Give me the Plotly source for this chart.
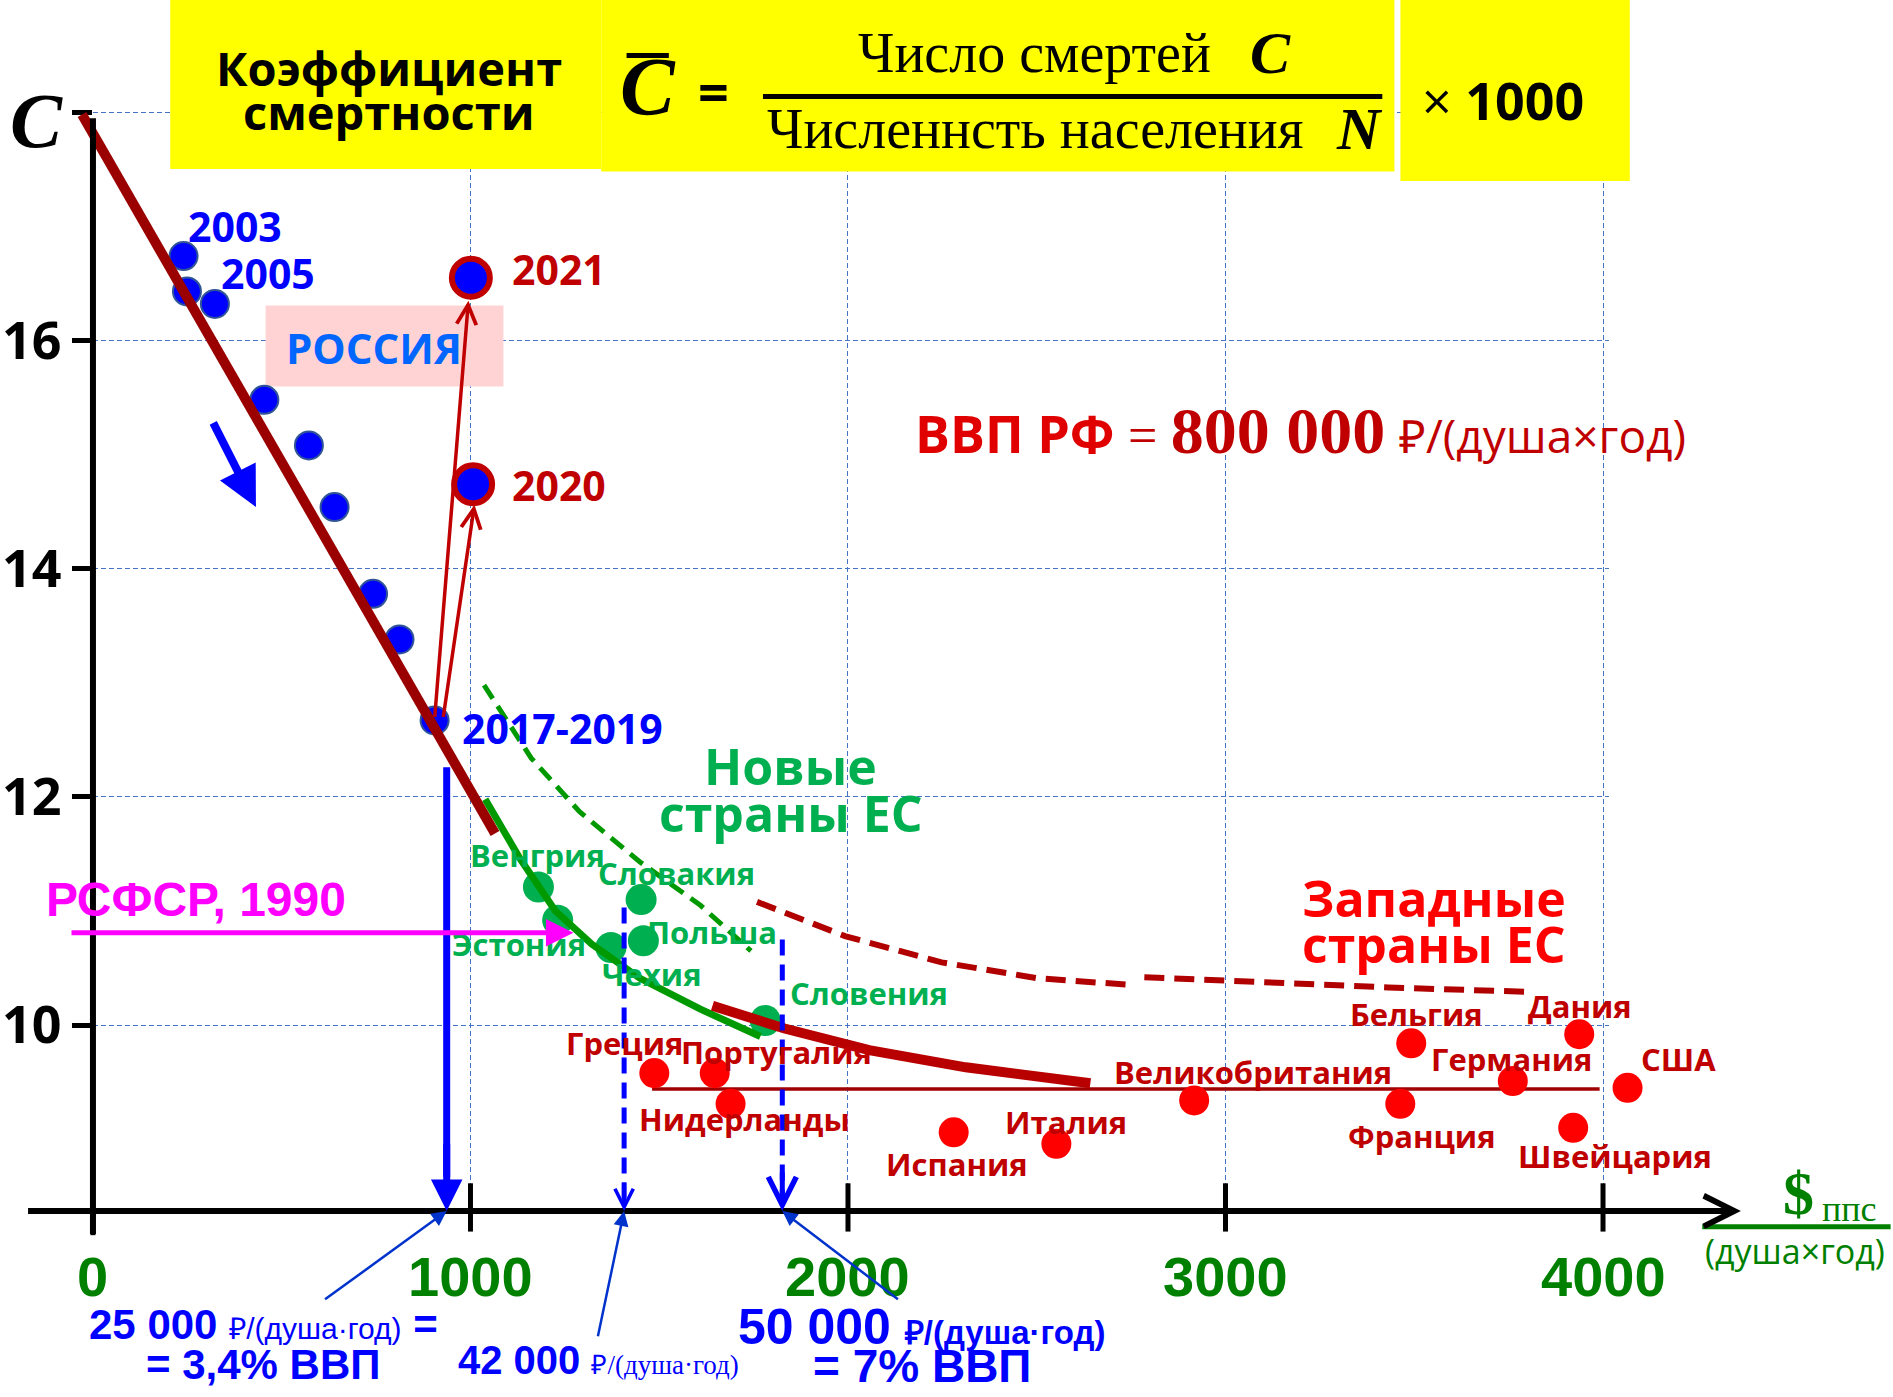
import plotly.graph_objects as go

# ---------------- data (x: $ PPP per capita per year, y: deaths per 1000) -------------
RU_LABELS = ['2003', '', '2005', '', '', '', '', '', '2017-2019']
RU_X = [240, 249, 323, 454, 572, 640, 742, 812, 905]
RU_Y = [16.74, 16.43, 16.32, 15.48, 15.08, 14.54, 13.78, 13.38, 12.67]
RU_COVID_LABELS = ['2020', '2021']
RU_COVID_X = [1007, 1001]
RU_COVID_Y = [14.74, 16.55]
RU_TREND_X = [-29, 1065]
RU_TREND_Y = [17.98, 11.68]

NEW_EU = ['Венгрия', 'Эстония', 'Словакия', 'Чехия', 'Польша', 'Словения']
NEW_EU_X = [1180, 1231, 1452, 1372, 1458, 1781]
NEW_EU_Y = [11.21, 10.92, 11.10, 10.68, 10.74, 10.04]
NEW_TREND_X = [1039, 1129, 1225, 1321, 1449, 1609, 1768]
NEW_TREND_Y = [11.98, 11.47, 11.00, 10.71, 10.41, 10.14, 9.90]
NEW_UPPER_X = [1036, 1161, 1289, 1449, 1609, 1743]
NEW_UPPER_Y = [12.98, 12.34, 11.87, 11.43, 11.05, 10.65]

WEST = ['Греция', 'Португалия', 'Нидерланды', 'Испания', 'Италия', 'Великобритания',
        'Бельгия', 'Франция', 'Германия', 'Дания', 'Швейцария', 'США']
WEST_X = [1487, 1647, 1689, 2280, 2552, 2917, 3492, 3463, 3761, 3937, 3921, 4065]
WEST_Y = [9.58, 9.58, 9.31, 9.06, 8.96, 9.34, 9.84, 9.31, 9.51, 9.92, 9.10, 9.45]
WEST_TREND_X = [1641, 1832, 2056, 2312, 2642]
WEST_TREND_Y = [10.17, 9.97, 9.78, 9.63, 9.49]
WEST_UPPER1_X = [1759, 1992, 2248, 2504, 2760]
WEST_UPPER1_Y = [11.08, 10.78, 10.55, 10.41, 10.35]
WEST_UPPER2_X = [2785, 3112, 3431, 3815]
WEST_UPPER2_Y = [10.42, 10.37, 10.33, 10.29]
WEST_MEAN_X = [1481, 3991]
WEST_MEAN_Y = [9.44, 9.44]

RSFSR_1990_C = 10.81
THRESH_X = [937, 1407, 1826]          # 25 000, 42 000, 50 000 rub -> $
THRESH_TOP = [12.26, 11.03, 10.75]

X_TICKS = [0, 1000, 2000, 3000, 4000]
X_TICK_TEXT = ['0', '1000', '2000', '3000', '4000']
Y_TICKS = [10, 12, 14, 16, 18]
Y_TICK_TEXT = ['10', '12', '14', '16', '']

# ---------------- layout helpers (reference pixel grid -> axis units) ----------------
W, H = 1893, 1397
SW, SH = 1568, 1157


def dx(sx):
    return (sx - 77) / 0.3127


def dy(sy):
    return 16 - (sy - 282) / 94.5


AXIS_Y = dy(1003)

SANS = 'Open Sans'
SERIF = 'Liberation Serif'
ARIAL = 'Liberation Sans'
NARROW = 'Liberation Sans Narrow, Liberation Sans'

fig = go.Figure()

# invisible trace for the grid subplot
fig.add_trace(go.Scatter(x=[0], y=[10], mode='markers', marker=dict(opacity=0),
                         hoverinfo='skip', showlegend=False, xaxis='x', yaxis='y'))


def line_trace(x, y, color, width, dash='solid'):
    fig.add_trace(go.Scatter(x=x, y=y, mode='lines', line=dict(color=color, width=width, dash=dash),
                             hoverinfo='skip', showlegend=False, xaxis='x2', yaxis='y2'))


# western mean line
line_trace(WEST_MEAN_X, WEST_MEAN_Y, '#A00000', 3.5)

# points
fig.add_trace(go.Scatter(x=RU_X, y=RU_Y, mode='markers', xaxis='x2', yaxis='y2', showlegend=False,
                         marker=dict(size=28, color='#0000FF', line=dict(color='#2F5597', width=2))))
fig.add_trace(go.Scatter(x=RU_COVID_X, y=RU_COVID_Y, mode='markers', xaxis='x2', yaxis='y2', showlegend=False,
                         marker=dict(size=38, color='#0000FF', line=dict(color='#C00000', width=6))))
fig.add_trace(go.Scatter(x=NEW_EU_X, y=NEW_EU_Y, mode='markers', xaxis='x2', yaxis='y2', showlegend=False,
                         marker=dict(size=31, color='#00B050')))
fig.add_trace(go.Scatter(x=WEST_X, y=WEST_Y, mode='markers', xaxis='x2', yaxis='y2', showlegend=False,
                         marker=dict(size=30, color='#FF0000')))

# trends
line_trace(NEW_UPPER_X, NEW_UPPER_Y, '#009900', 5, '16px,9px')
line_trace(WEST_UPPER1_X, WEST_UPPER1_Y, '#B00000', 6, '20px,10px')
line_trace(WEST_UPPER2_X, WEST_UPPER2_Y, '#B00000', 6, '20px,10px')
line_trace(RU_TREND_X, RU_TREND_Y, '#9B0000', 10)
line_trace(NEW_TREND_X, NEW_TREND_Y, '#009900', 7)
line_trace(WEST_TREND_X, WEST_TREND_Y, '#B80000', 10)

# threshold verticals
line_trace([THRESH_X[0], THRESH_X[0]], [THRESH_TOP[0], AXIS_Y + 0.3], '#0000FF', 7)
for i in (1, 2):
    line_trace([THRESH_X[i], THRESH_X[i]], [THRESH_TOP[i], AXIS_Y + 0.05], '#0000FF', 5, '16px,9px')

# ---------------- shapes ----------------
shapes = []


def rect(x0, y0, x1, y1, color, layer='above'):
    shapes.append(dict(type='rect', xref='x2', yref='y2', x0=dx(x0), x1=dx(x1), y0=dy(y0), y1=dy(y1),
                       fillcolor=color, line=dict(width=0), layer=layer))


def seg(x0, y0, x1, y1, color, width):
    shapes.append(dict(type='line', xref='x2', yref='y2', x0=x0, x1=x1, y0=y0, y1=y1,
                       line=dict(color=color, width=width)))


rect(141, -2, 498, 140, '#FFFF00')
rect(498, -2, 1155, 142, '#FFFF00')
rect(1160, -2, 1350, 150, '#FFFF00')
rect(220, 253, 417, 320, '#FFD3D3', layer='below')
# fraction bar and overbar
seg(dx(632), dy(80), dx(1145), dy(80), 'black', 5)
seg(dx(519), dy(46), dx(554), dy(46), 'black', 5)
# y axis line
seg(0, dy(98), 0, dy(1022), 'black', 6)
# x ticks
seg(0, AXIS_Y, 0, dy(1023), 'black', 5)
for t in X_TICKS[1:]:
    seg(t, dy(980), t, dy(1020), 'black', 5)
# axis title bar
seg(dx(1410), dy(1016), dx(1566), dy(1016), '#008000', 5)

# ---------------- annotations ----------------
ann = []


def txt(sx, sy, text, size, color, family=SANS, bold=True, xanchor='center', x=None, y=None):
    ann.append(dict(x=dx(sx) if x is None else x, y=dy(sy) if y is None else y, xref='x2', yref='y2',
                    text=('<b>%s</b>' % text) if bold else text, showarrow=False,
                    font=dict(family=family, size=size, color=color),
                    xanchor=xanchor, yanchor='middle'))


def arrow(x, y, ax, ay, color, width, head, size=1.0, pixel_tail=False):
    d = dict(x=x, y=y, ax=ax, ay=ay, xref='x2', yref='y2', text='', showarrow=True,
             arrowhead=head, arrowsize=size, arrowwidth=width, arrowcolor=color, standoff=0)
    if not pixel_tail:
        d.update(axref='x2', ayref='y2')
    ann.append(d)


# header
txt(322, 56, 'Коэффициент', 47, 'black')
txt(322, 93, 'смертности', 47, 'black')
txt(537, 72, '<i>C</i>', 82, 'black', family=SERIF)
txt(591, 75, '=', 54, 'black')
txt(857, 44, 'Число смертей', 56, 'black', family=SERIF, bold=False)
txt(1052, 44, '<i>C</i>', 60, 'black', family=SERIF)
txt(858, 107, 'Численнсть населения', 56, 'black', family=SERIF, bold=False)
txt(1126, 107, '<i>N</i>', 60, 'black', family=SERIF)
txt(1245, 82, '<span style="font-weight:normal">×</span> 1000', 52, 'black')

# axis labels
txt(30, 100, '<i>C</i>', 78, 'black', family=SERIF)
for t, s in zip(X_TICKS, X_TICK_TEXT):
    txt(0, 1057, s, 56, '#008000', family=ARIAL, x=t)
txt(1490, 988, '$', 62, '#008000', family=SERIF)
txt(1532, 1001, 'ппс', 36, '#008000', family=SERIF, bold=False)
txt(1487, 1036, '(душа×год)', 34, '#008000', bold=False)

# russia
txt(195, 187, '2003', 41, '#0000FF')
txt(222, 226, '2005', 41, '#0000FF')
txt(466, 603, '2017-2019', 41, '#0000FF')
txt(463, 223, '2021', 41, '#C00000')
txt(463, 402, '2020', 41, '#C00000')
txt(310, 288, 'РОССИЯ', 42, '#0066FF')

# GDP note
txt(1077, 357,
    '<span style="color:#E00000">ВВП РФ</span> '
    '<span style="font-family:Liberation Serif;font-weight:normal">=</span> '
    '<span style="font-family:Liberation Serif;font-size:66px">800 000</span> '
    '<span style="font-weight:normal;font-size:46px">₽/(душа×год)</span>',
    52, '#C00000')

# group labels
txt(655, 634, 'Новые', 50, '#00B050')
txt(655, 673, 'страны ЕС', 50, '#00B050')
txt(1188, 744, 'Западные', 50, '#FF0000')
txt(1188, 782, 'страны ЕС', 50, '#FF0000')

NEW_EU_LABEL_POS = [(445, 708), (430, 782), (560, 723), (540, 807), (590, 772), (720, 822)]
for name, (sx, sy) in zip(NEW_EU, NEW_EU_LABEL_POS):
    txt(sx, sy, name, 31, '#00B050')
WEST_LABEL_POS = [(517, 864), (643, 871), (617, 927), (793, 964), (883, 929), (1038, 888),
                  (1173, 840), (1178, 941), (1252, 877), (1309, 833), (1338, 957), (1390, 877)]
for name, (sx, sy) in zip(WEST, WEST_LABEL_POS):
    txt(sx, sy, name, 31, '#C00000')

# RSFSR
txt(162, 745, 'РСФСР, 1990', 48, '#FF00FF', family=ARIAL)
arrow(dx(475), RSFSR_1990_C, dx(58), RSFSR_1990_C, '#FF00FF', 5, 2, 1.1)

# trend direction arrow
arrow(dx(212), dy(420), dx(176), dy(349), '#0000FF', 8, 2, 1.0)

# covid jumps
arrow(dx(388), dy(249), dx(360), dy(595), '#C00000', 3.5, 5, 1.1)
arrow(dx(393), dy(418), dx(367), dy(595), '#C00000', 3.5, 5, 1.1)

# x axis arrow
arrow(dx(1442), AXIS_Y, dx(22), AXIS_Y, 'black', 6, 5, 1.0)

# threshold arrowheads
arrow(THRESH_X[0], AXIS_Y, THRESH_X[0], AXIS_Y + 0.6, '#0000FF', 7, 2, 0.9)
arrow(THRESH_X[1], AXIS_Y, 0, -30, '#0000FF', 4, 5, 0.9, pixel_tail=True)
arrow(THRESH_X[2], AXIS_Y, 0, -40, '#0000FF', 5, 5, 1.1, pixel_tail=True)

# pointers from notes
arrow(THRESH_X[0], AXIS_Y, dx(268), dy(1077), '#0033CC', 2.5, 2, 1.2)
arrow(THRESH_X[1], AXIS_Y, dx(495), dy(1108), '#0033CC', 2.5, 2, 1.2)
arrow(THRESH_X[2], AXIS_Y, dx(745), dy(1077), '#0033CC', 2.5, 2, 1.2)

# notes
RUB = '<span style="font-weight:normal;font-size:%dpx">₽/(душа·год)</span>'
txt(218, 1097, '25 000 ' + (RUB % 30) + ' =', 42, '#0000FF', family=NARROW)
txt(218, 1130, '= 3,4% ВВП', 42, '#0000FF', family=ARIAL)
txt(496, 1126, '42 000 <span style="font-family:Liberation Serif;font-weight:normal;font-size:27px">₽/(душа·год)</span>',
    40, '#0000FF', family=NARROW)
txt(764, 1099, '50 000 <span style="font-size:33px">₽/(душа·год)</span>', 50, '#0000FF', family=NARROW)
txt(764, 1131, '= 7% ВВП', 46, '#0000FF', family=ARIAL)

# ---------------- axes ----------------
fig.update_layout(
    width=W, height=H, margin=dict(l=0, r=0, t=0, b=0),
    paper_bgcolor='white', plot_bgcolor='rgba(0,0,0,0)',
    showlegend=False, hovermode=False,
    shapes=shapes, annotations=ann,
    xaxis=dict(domain=[77 / SW, 1333 / SW], range=[0, dx(1333)], tickvals=X_TICKS[1:],
               showticklabels=False, ticks='', showgrid=True, gridcolor='#4472C4', gridwidth=1.3,
               griddash='5px,3px', zeroline=False, showline=False, fixedrange=True),
    yaxis=dict(domain=[(SH - 1003) / SH, (SH - 92) / SH], range=[dy(1003), dy(92)], anchor='x',
               tickvals=Y_TICKS, ticktext=Y_TICK_TEXT, ticks='outside', ticklen=20, tickwidth=5,
               tickcolor='black', tickfont=dict(family=SANS, size=52, color='black', weight='bold'),
               showgrid=True, gridcolor='#4472C4', gridwidth=1.3, griddash='5px,3px',
               zeroline=False, showline=False, fixedrange=True),
    xaxis2=dict(domain=[0, 1], range=[dx(0), dx(SW)], anchor='y2', visible=False, fixedrange=True),
    yaxis2=dict(domain=[0, 1], range=[dy(SH), dy(0)], anchor='x2', visible=False, fixedrange=True),
)

fig.write_html('out.html', config={'displayModeBar': False},
               post_script="document.body.style.margin='0';document.body.style.overflow='hidden';")
